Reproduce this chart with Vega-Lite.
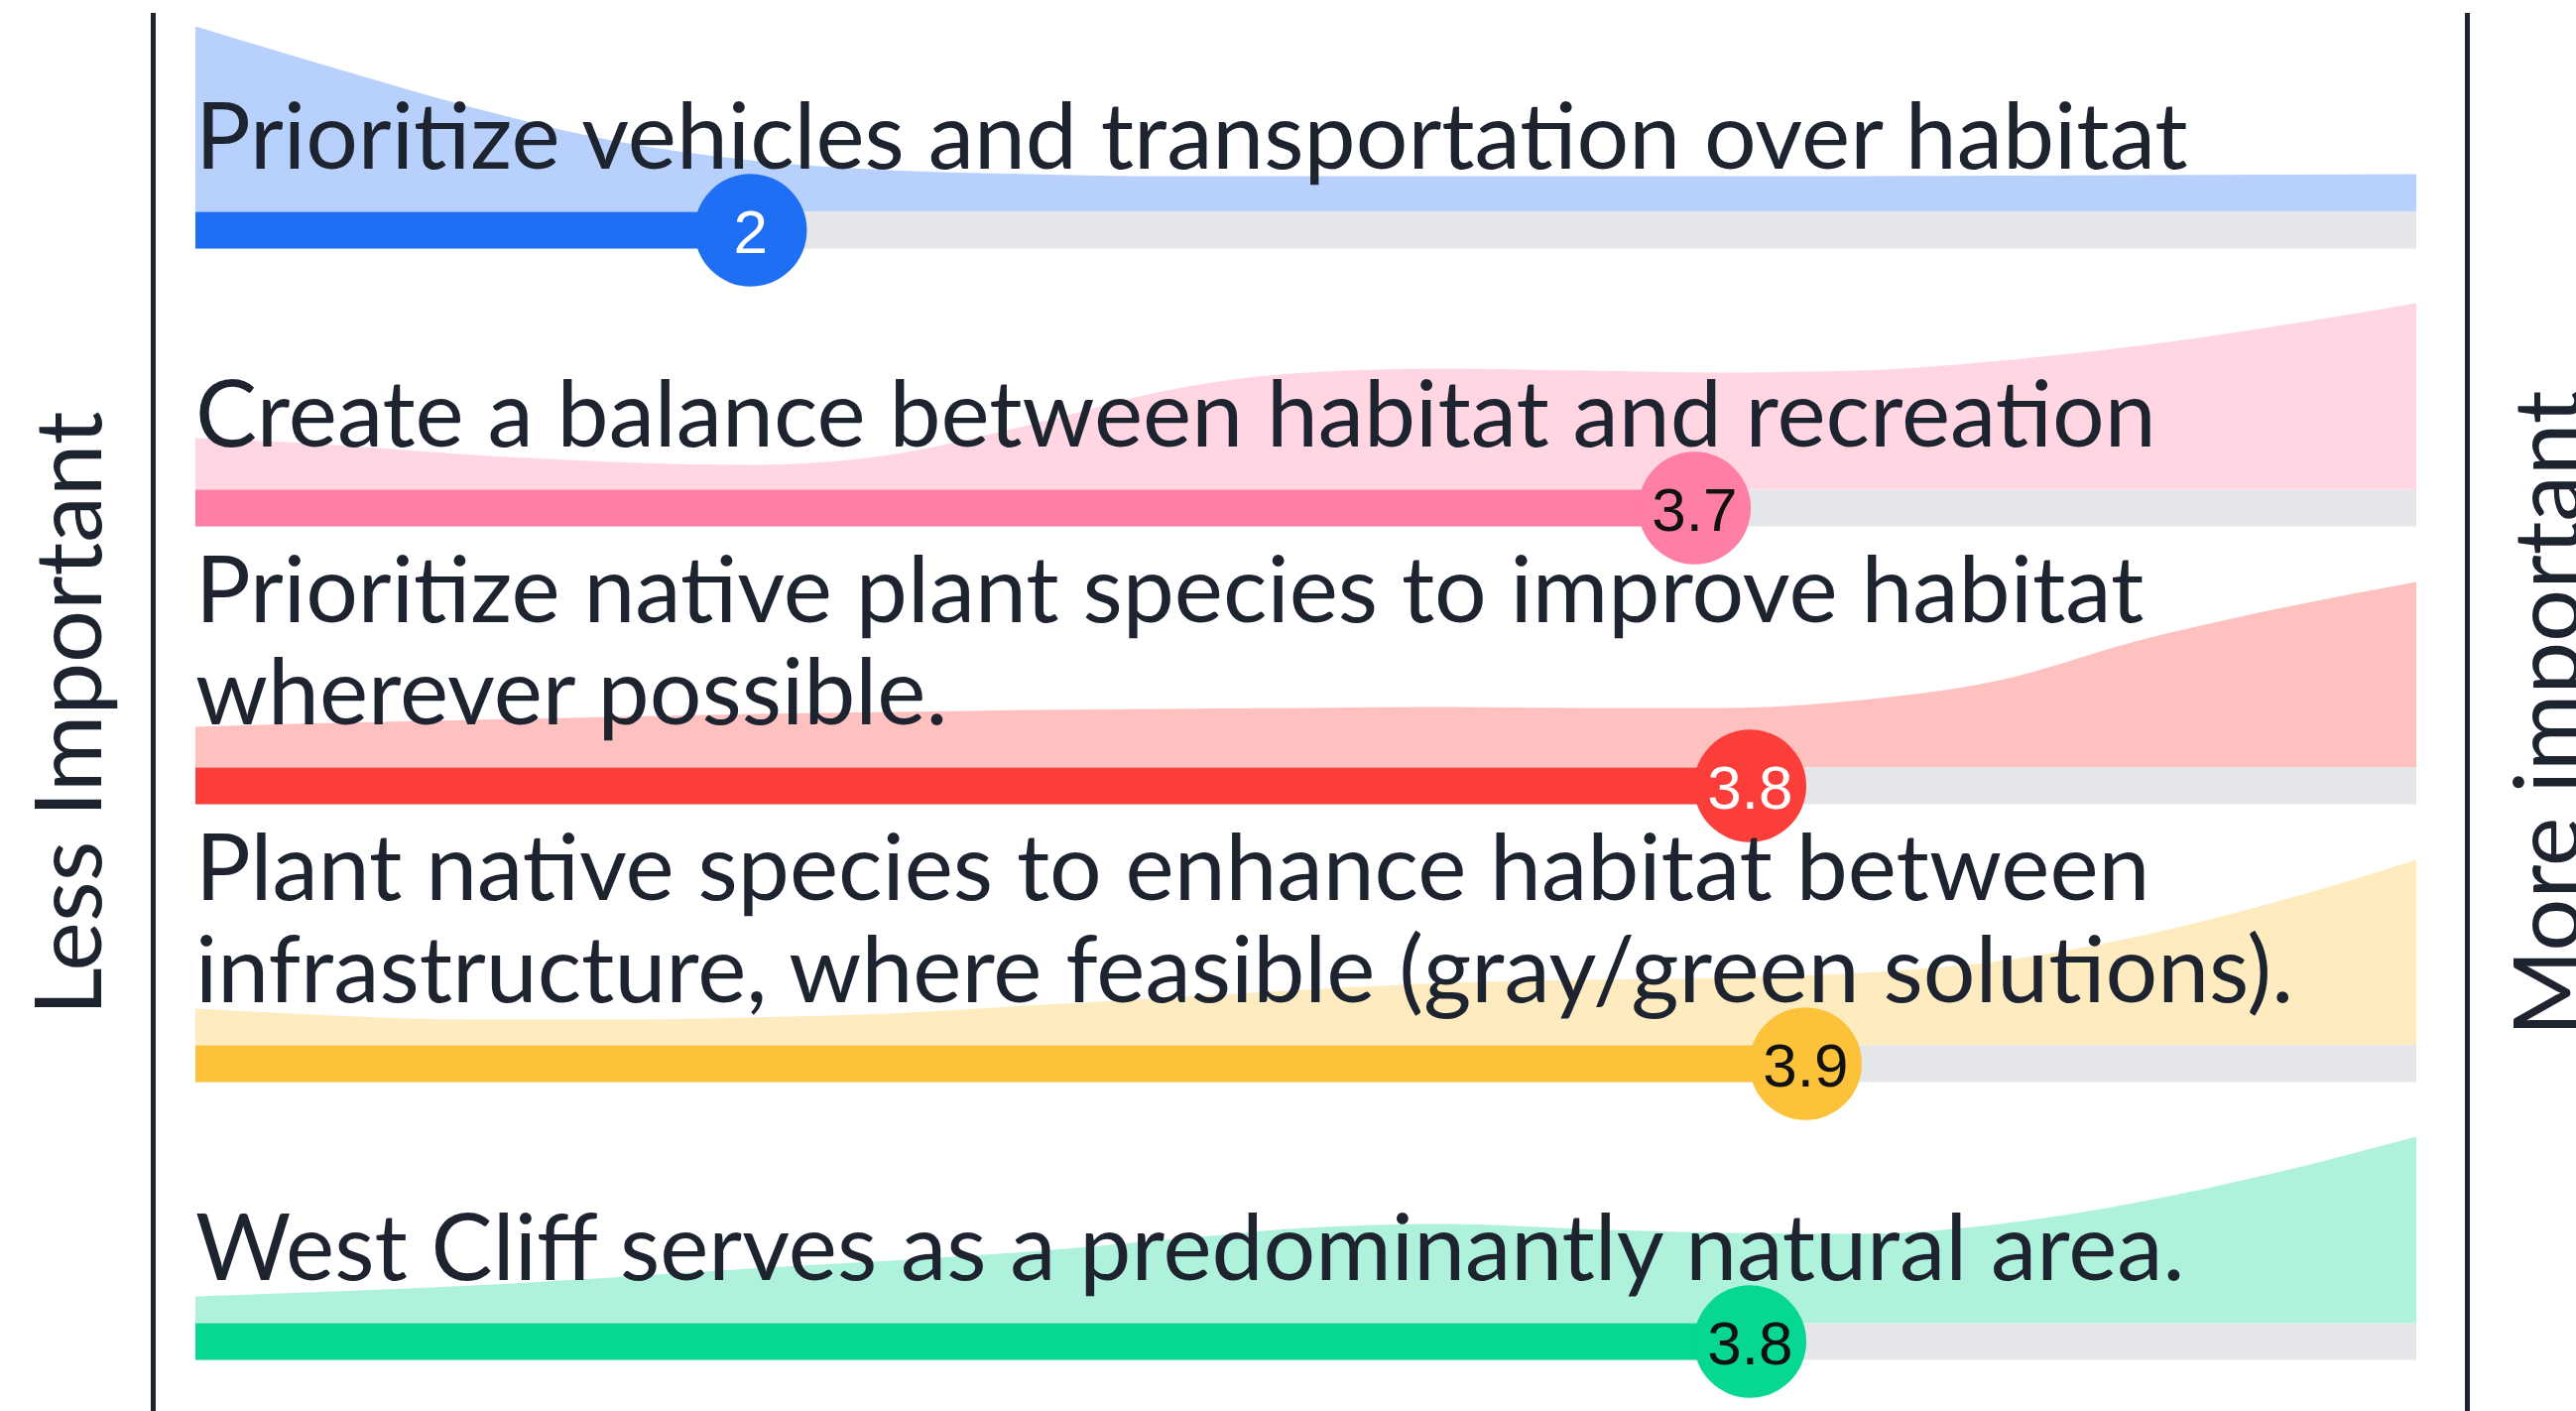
{
  "$schema": "https://vega.github.io/schema/vega-lite/v6.json",
  "usermeta": {"embedOptions": {"actions": false}},
  "background": "white",
  "padding": {"top": 10, "left": 0, "right": 0, "bottom": 0},
  "spacing": 0,
  "config": {"view": {"stroke": null}, "concat": {"spacing": 0}, "facet": {"spacing": 0}},
  "hconcat": [
    {
      "width": 157,
      "height": 1412,
      "data": {"values": [{"side": "Less Important", "pos": 0.65, "edge": 0.984}]},
      "layer": [
        {
          "mark": {"type": "rule", "color": "#1e2330", "strokeWidth": 5},
          "encoding": {"x": {"field": "edge", "type": "quantitative", "scale": {"domain": [0, 1]}, "axis": null}}
        },
        {
          "mark": {"type": "text", "angle": 270, "align": "center", "baseline": "alphabetic", "font": "Lato", "fontSize": 94, "color": "#1e2330"},
          "encoding": {
            "x": {"field": "pos", "type": "quantitative"},
            "text": {"field": "side", "type": "nominal"}
          }
        }
      ]
    },
    {
      "data": {"values": [
        {"q": "q1", "lo": 1, "hi": 5, "mean": 2, "lineB": "Prioritize vehicles and transportation over habitat"},
        {"q": "q2", "lo": 1, "hi": 5, "mean": 3.7, "lineB": "Create a balance between habitat and recreation"},
        {"q": "q3", "lo": 1, "hi": 5, "mean": 3.8, "lineA": "Prioritize native plant species to improve habitat", "lineB": "wherever possible."},
        {"q": "q4", "lo": 1, "hi": 5, "mean": 3.9, "lineA": "Plant native species to enhance habitat between", "lineB": "infrastructure, where feasible (gray/green solutions)."},
        {"q": "q5", "lo": 1, "hi": 5, "mean": 3.8, "lineB": "West Cliff serves as a predominantly natural area."},
        {"q": "q1", "v": 1, "d": 0.995}, {"q": "q1", "v": 1.25, "d": 0.771}, {"q": "q1", "v": 1.5, "d": 0.559}, {"q": "q1", "v": 1.75, "d": 0.383},
        {"q": "q1", "v": 2, "d": 0.277}, {"q": "q1", "v": 2.25, "d": 0.223}, {"q": "q1", "v": 2.5, "d": 0.202}, {"q": "q1", "v": 2.75, "d": 0.191},
        {"q": "q1", "v": 3, "d": 0.191}, {"q": "q1", "v": 3.25, "d": 0.191}, {"q": "q1", "v": 3.5, "d": 0.191}, {"q": "q1", "v": 3.75, "d": 0.191},
        {"q": "q1", "v": 4, "d": 0.191}, {"q": "q1", "v": 4.25, "d": 0.194}, {"q": "q1", "v": 4.5, "d": 0.197}, {"q": "q1", "v": 4.75, "d": 0.199},
        {"q": "q1", "v": 5, "d": 0.202},
        {"q": "q2", "v": 1, "d": 0.277}, {"q": "q2", "v": 1.25, "d": 0.239}, {"q": "q2", "v": 1.5, "d": 0.186}, {"q": "q2", "v": 1.75, "d": 0.149},
        {"q": "q2", "v": 2, "d": 0.133}, {"q": "q2", "v": 2.25, "d": 0.186}, {"q": "q2", "v": 2.5, "d": 0.346}, {"q": "q2", "v": 2.75, "d": 0.532},
        {"q": "q2", "v": 3, "d": 0.628}, {"q": "q2", "v": 3.25, "d": 0.649}, {"q": "q2", "v": 3.5, "d": 0.638}, {"q": "q2", "v": 3.75, "d": 0.628},
        {"q": "q2", "v": 4, "d": 0.638}, {"q": "q2", "v": 4.25, "d": 0.691}, {"q": "q2", "v": 4.5, "d": 0.771}, {"q": "q2", "v": 4.75, "d": 0.878},
        {"q": "q2", "v": 5, "d": 1.0},
        {"q": "q3", "v": 1, "d": 0.218}, {"q": "q3", "v": 1.25, "d": 0.239}, {"q": "q3", "v": 1.5, "d": 0.255}, {"q": "q3", "v": 1.75, "d": 0.271},
        {"q": "q3", "v": 2, "d": 0.287}, {"q": "q3", "v": 2.25, "d": 0.298}, {"q": "q3", "v": 2.5, "d": 0.309}, {"q": "q3", "v": 2.75, "d": 0.314},
        {"q": "q3", "v": 3, "d": 0.319}, {"q": "q3", "v": 3.25, "d": 0.324}, {"q": "q3", "v": 3.5, "d": 0.319}, {"q": "q3", "v": 3.75, "d": 0.319},
        {"q": "q3", "v": 4, "d": 0.362}, {"q": "q3", "v": 4.25, "d": 0.468}, {"q": "q3", "v": 4.5, "d": 0.681}, {"q": "q3", "v": 4.75, "d": 0.851},
        {"q": "q3", "v": 5, "d": 0.995},
        {"q": "q4", "v": 1, "d": 0.197}, {"q": "q4", "v": 1.25, "d": 0.160}, {"q": "q4", "v": 1.5, "d": 0.138}, {"q": "q4", "v": 1.75, "d": 0.138},
        {"q": "q4", "v": 2, "d": 0.149}, {"q": "q4", "v": 2.25, "d": 0.170}, {"q": "q4", "v": 2.5, "d": 0.213}, {"q": "q4", "v": 2.75, "d": 0.255},
        {"q": "q4", "v": 3, "d": 0.298}, {"q": "q4", "v": 3.25, "d": 0.335}, {"q": "q4", "v": 3.5, "d": 0.351}, {"q": "q4", "v": 3.75, "d": 0.362},
        {"q": "q4", "v": 4, "d": 0.388}, {"q": "q4", "v": 4.25, "d": 0.452}, {"q": "q4", "v": 4.5, "d": 0.585}, {"q": "q4", "v": 4.75, "d": 0.771},
        {"q": "q4", "v": 5, "d": 0.995},
        {"q": "q5", "v": 1, "d": 0.144}, {"q": "q5", "v": 1.25, "d": 0.170}, {"q": "q5", "v": 1.5, "d": 0.202}, {"q": "q5", "v": 1.75, "d": 0.245},
        {"q": "q5", "v": 2, "d": 0.293}, {"q": "q5", "v": 2.25, "d": 0.335}, {"q": "q5", "v": 2.5, "d": 0.383}, {"q": "q5", "v": 2.75, "d": 0.447},
        {"q": "q5", "v": 3, "d": 0.511}, {"q": "q5", "v": 3.25, "d": 0.532}, {"q": "q5", "v": 3.5, "d": 0.505}, {"q": "q5", "v": 3.75, "d": 0.484},
        {"q": "q5", "v": 4, "d": 0.479}, {"q": "q5", "v": 4.25, "d": 0.532}, {"q": "q5", "v": 4.5, "d": 0.649}, {"q": "q5", "v": 4.75, "d": 0.809},
        {"q": "q5", "v": 5, "d": 1.0}
      ]},
      "facet": {"row": {"field": "q", "type": "nominal", "header": null}},
      "spacing": {"row": 0},
      "bounds": "flush",
      "spec": {
        "width": 2327,
        "height": 280,
        "layer": [
          {
            "transform": [{"filter": {"field": "d", "valid": true}}],
            "mark": {"type": "area", "interpolate": "monotone", "opacity": 0.32},
            "encoding": {
              "x": {"field": "v", "type": "quantitative", "scale": {"domain": [0.92854, 5.08575], "nice": false, "zero": false}, "axis": null},
              "y": {"field": "d", "type": "quantitative", "stack": null, "scale": {"domain": [-0.4229, 1.0665], "nice": false, "zero": false}, "axis": null},
              "color": {"field": "q", "type": "nominal", "scale": {"domain": ["q1", "q2", "q3", "q4", "q5"], "range": ["#1f6ff5", "#ff7ea6", "#fc3e3b", "#fcc23a", "#06d792"]}, "legend": null}
            }
          },
          {
            "transform": [{"filter": {"field": "mean", "valid": true}}],
            "mark": {"type": "rule", "color": "#e4e6ea", "strokeWidth": 37, "strokeCap": "butt"},
            "encoding": {
              "x": {"field": "lo", "type": "quantitative"},
              "x2": {"field": "hi"},
              "y": {"datum": -0.0984, "type": "quantitative"}
            }
          },
          {
            "transform": [{"filter": {"field": "mean", "valid": true}}],
            "mark": {"type": "rule", "strokeWidth": 37, "strokeCap": "butt"},
            "encoding": {
              "x": {"field": "lo", "type": "quantitative"},
              "x2": {"field": "mean"},
              "y": {"datum": -0.0984, "type": "quantitative"},
              "color": {"field": "q", "type": "nominal", "legend": null}
            }
          },
          {
            "transform": [{"filter": "datum.lineA"}],
            "mark": {"type": "text", "align": "left", "baseline": "alphabetic", "font": "Lato", "fontSize": 93, "color": "#1e2330"},
            "encoding": {
              "x": {"field": "lo", "type": "quantitative"},
              "y": {"datum": 0.779, "type": "quantitative"},
              "text": {"field": "lineA", "type": "nominal"}
            }
          },
          {
            "transform": [{"filter": "datum.lineB"}],
            "mark": {"type": "text", "align": "left", "baseline": "alphabetic", "font": "Lato", "fontSize": 93, "color": "#1e2330"},
            "encoding": {
              "x": {"field": "lo", "type": "quantitative"},
              "y": {"datum": 0.2314, "type": "quantitative"},
              "text": {"field": "lineB", "type": "nominal"}
            }
          },
          {
            "transform": [{"filter": {"field": "mean", "valid": true}}],
            "mark": {"type": "point", "shape": "circle", "filled": true, "opacity": 1, "size": 12868},
            "encoding": {
              "x": {"field": "mean", "type": "quantitative"},
              "y": {"datum": -0.0984, "type": "quantitative"},
              "color": {"field": "q", "type": "nominal", "legend": null}
            }
          },
          {
            "transform": [{"filter": {"field": "mean", "valid": true}}],
            "mark": {"type": "text", "align": "center", "baseline": "middle", "dy": 4, "font": "Liberation Sans", "fontSize": 62},
            "encoding": {
              "x": {"field": "mean", "type": "quantitative"},
              "y": {"datum": -0.0984, "type": "quantitative"},
              "text": {"field": "mean", "type": "quantitative", "format": ".1~f"},
              "color": {"condition": {"test": "datum.q === 'q1' || datum.q === 'q3'", "value": "#ffffff"}, "value": "#111111"}
            }
          }
        ]
      }
    },
    {
      "width": 113,
      "height": 1412,
      "data": {"values": [{"side": "More important", "pos": 1.027, "edge": 0.022}]},
      "layer": [
        {
          "mark": {"type": "rule", "color": "#1e2330", "strokeWidth": 5},
          "encoding": {"x": {"field": "edge", "type": "quantitative", "scale": {"domain": [0, 1]}, "axis": null}}
        },
        {
          "mark": {"type": "text", "angle": 270, "align": "center", "baseline": "alphabetic", "font": "Lato", "fontSize": 94, "color": "#1e2330"},
          "encoding": {
            "x": {"field": "pos", "type": "quantitative"},
            "text": {"field": "side", "type": "nominal"}
          }
        }
      ]
    }
  ]
}
